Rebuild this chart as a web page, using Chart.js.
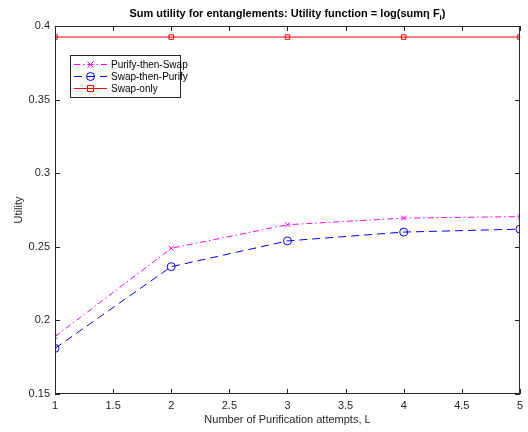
<!DOCTYPE html>
<html><head><meta charset="utf-8">
<script src="https://cdn.jsdelivr.net/npm/chart.js@4/dist/chart.umd.min.js"></script>
<style>html,body{margin:0;padding:0;background:#fff}#wrap{width:528px;height:432px}</style>
</head><body><div id="wrap"><canvas id="c" width="528" height="432"></canvas></div>
<script>
const attempts = [1, 2, 3, 4, 5];
const purifyThenSwap = [0.189, 0.249, 0.265, 0.2695, 0.2705];
const swapThenPurify = [0.181, 0.2365, 0.254, 0.260, 0.262];
const swapOnly = [0.3925, 0.3925, 0.3925, 0.3925, 0.3925];
const xTicks = [1, 1.5, 2, 2.5, 3, 3.5, 4, 4.5, 5];
const yTicks = [0.15, 0.2, 0.25, 0.3, 0.35, 0.4];
const titleMain = "Sum utility for entanglements: Utility function = log(sumη F";
const titleSub = "i";
const titleEnd = ")";

const FONT = "'Liberation Sans', Arial, sans-serif";
const AX = '#262626';

const frame = {
  id: 'frame',
  afterDraw(chart) {
    const {ctx, chartArea: a, scales: {x, y}} = chart;
    ctx.save();
    ctx.strokeStyle = AX; ctx.lineWidth = 1;
    ctx.strokeRect(a.left + 0.5, a.top + 0.5, a.right - a.left - 1, a.bottom - a.top - 1);
    ctx.beginPath();
    xTicks.forEach(v => {
      const px = Math.round(x.getPixelForValue(v)) + 0.5;
      ctx.moveTo(px, a.bottom); ctx.lineTo(px, a.bottom - 5);
      ctx.moveTo(px, a.top); ctx.lineTo(px, a.top + 5);
    });
    yTicks.forEach(v => {
      const py = Math.round(y.getPixelForValue(v)) + 0.5;
      ctx.moveTo(a.left, py); ctx.lineTo(a.left + 5, py);
      ctx.moveTo(a.right, py); ctx.lineTo(a.right - 5, py);
    });
    ctx.stroke();
    // title
    ctx.fillStyle = '#000';
    ctx.font = "bold 11px " + FONT;
    ctx.textBaseline = 'alphabetic';
    const subFont = "bold 8px " + FONT;
    const w1 = ctx.measureText(titleMain).width;
    ctx.font = subFont; const w2 = ctx.measureText(titleSub).width;
    ctx.font = "bold 11px " + FONT; const w3 = ctx.measureText(titleEnd).width;
    const total = w1 + w2 + w3;
    let sx = (a.left + a.right) / 2 - total / 2;
    const by = 17;
    ctx.fillText(titleMain, sx, by);
    ctx.font = subFont; ctx.fillText(titleSub, sx + w1, by + 3);
    ctx.font = "bold 11px " + FONT; ctx.fillText(titleEnd, sx + w1 + w2, by);
    // legend
    const lx = 70, ly = 55, lw = 110, lh = 42;
    ctx.fillStyle = '#fff';
    ctx.fillRect(lx, ly, lw, lh);
    ctx.strokeStyle = AX; ctx.lineWidth = 1;
    ctx.strokeRect(lx + 0.5, ly + 0.5, lw, lh);
    chart.data.datasets.forEach((ds, i) => {
      const yy = ly + 9 + i * 12;
      ctx.strokeStyle = ds.borderColor; ctx.lineWidth = 1;
      ctx.setLineDash(ds.borderDash || []);
      ctx.beginPath(); ctx.moveTo(lx + 4, yy + 0.5); ctx.lineTo(lx + 37, yy + 0.5); ctx.stroke();
      ctx.setLineDash([]);
      const mx = lx + 20.5;
      ctx.beginPath();
      if (ds.pointStyle === 'circle') { ctx.arc(mx, yy + 0.5, 4, 0, Math.PI * 2); }
      else if (ds.pointStyle === 'rect') { ctx.rect(mx - 3, yy - 2.5, 6, 6); }
      else { ctx.moveTo(mx - 3, yy - 2.5); ctx.lineTo(mx + 3, yy + 3.5); ctx.moveTo(mx + 3, yy - 2.5); ctx.lineTo(mx - 3, yy + 3.5); }
      ctx.stroke();
      ctx.fillStyle = '#000';
      ctx.font = "10px " + FONT;
      ctx.textBaseline = 'middle';
      ctx.fillText(ds.label, lx + 41, yy + 1);
    });
    ctx.restore();
  }
};

new Chart(document.getElementById('c'), {
  type: 'line',
  data: {
    datasets: [
      { label: 'Purify-then-Swap', data: attempts.map((a, i) => ({x: a, y: purifyThenSwap[i]})),
        borderColor: '#ff00ff', backgroundColor: 'transparent', borderWidth: 1, borderDash: [6, 3, 1.5, 3],
        pointStyle: 'crossRot', pointRadius: 3.5, pointBorderColor: '#ff00ff', pointBorderWidth: 1 },
      { label: 'Swap-then-Purify', data: attempts.map((a, i) => ({x: a, y: swapThenPurify[i]})),
        borderColor: '#0000ff', backgroundColor: 'transparent', borderWidth: 1, borderDash: [8, 5],
        pointStyle: 'circle', pointRadius: 4, pointBorderColor: '#0000ff', pointBackgroundColor: 'transparent', pointBorderWidth: 1 },
      { label: 'Swap-only', data: attempts.map((a, i) => ({x: a, y: swapOnly[i]})),
        borderColor: '#ff0000', backgroundColor: 'transparent', borderWidth: 1,
        pointStyle: 'rect', pointRadius: 3.2, pointBorderColor: '#ff0000', pointBackgroundColor: 'transparent', pointBorderWidth: 1 }
    ]
  },
  options: {
    responsive: false, animation: false, devicePixelRatio: 1,
    layout: { padding: { top: 26, right: 4, left: 0, bottom: 0 } },
    plugins: { legend: { display: false }, title: { display: false }, tooltip: { enabled: false } },
    elements: { line: { tension: 0 } },
    scales: {
      x: {
        type: 'linear', min: 1, max: 5,
        afterBuildTicks: s => { s.ticks = xTicks.map(v => ({value: v})); },
        afterFit: s => { s.height = 38; },
        grid: { display: false, drawTicks: false },
        border: { display: false },
        ticks: { color: AX, font: { family: FONT, size: 11 }, padding: 5, maxRotation: 0, autoSkip: false,
                 callback: v => String(v) },
        title: { display: true, text: 'Number of Purification attempts, L', color: AX,
                 font: { family: FONT, size: 11 }, padding: { top: 2, bottom: 5 } }
      },
      y: {
        type: 'linear', min: 0.15, max: 0.4,
        afterBuildTicks: s => { s.ticks = yTicks.map(v => ({value: v})); },
        afterFit: s => { s.width = 55; },
        grid: { display: false, drawTicks: false },
        border: { display: false },
        ticks: { color: AX, font: { family: FONT, size: 11 }, padding: 5, autoSkip: false,
                 callback: v => String(+v.toFixed(2)) },
        title: { display: true, text: 'Utility', color: AX, font: { family: FONT, size: 11 }, padding: { top: 12, bottom: 2 } }
      }
    }
  },
  plugins: [frame]
});
</script></body></html>
